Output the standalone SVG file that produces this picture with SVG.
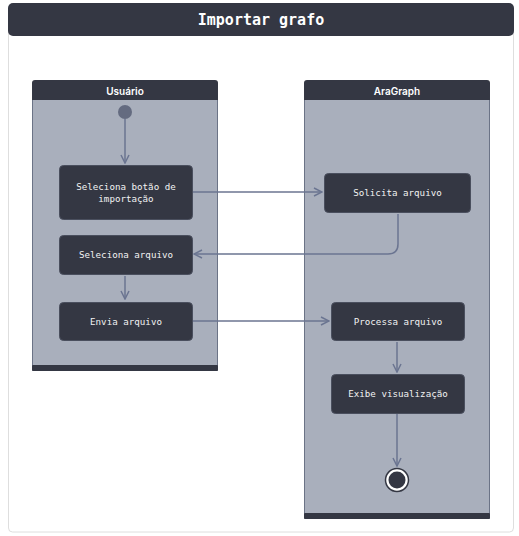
<svg xmlns="http://www.w3.org/2000/svg" width="519" height="536" viewBox="0 0 519 536">
<defs>
<style>
.lane{fill:#a9afbc;stroke:#6b7386;stroke-width:1}
.lanehead{fill:#343743}
.lanetitle{font-family:Inter,"Liberation Sans",sans-serif;font-size:10px;font-weight:600;fill:#ffffff;text-anchor:middle}
.node rect{fill:#343743;stroke:#4a4f5e;stroke-width:1}
.node text{font-family:"DejaVu Sans Mono","Liberation Mono",monospace;font-size:9.2px;fill:#f2f2f2;text-anchor:middle}
.edge{fill:none;stroke:#6b7591;stroke-width:1.5}
</style>
<marker id="arr" viewBox="0 0 10 10" refX="9" refY="5" markerWidth="10" markerHeight="10" markerUnits="userSpaceOnUse" orient="auto">
<path d="M1,1 L9,5 L1,9" fill="none" stroke="#6b7591" stroke-width="1.5"/>
</marker>
</defs>
<rect x="0" y="0" width="519" height="536" fill="#ffffff"/>
<rect x="8.5" y="30" width="505" height="502" rx="4" fill="#ffffff" stroke="#dedede" stroke-width="1"/>
<g id="title">
<rect x="8" y="3" width="506" height="33" rx="5" fill="#343743"/>
<text x="261" y="25" font-family="'DejaVu Sans Mono','Liberation Mono',monospace" font-size="15" font-weight="bold" fill="#ffffff" text-anchor="middle">Importar grafo</text>
</g>
<g id="lane-usuario">
<rect class="lane" x="32.5" y="92" width="185" height="278"/>
<rect class="lanehead" x="32" y="80" width="186" height="20" rx="3"/>
<rect class="lanehead" x="32" y="90" width="186" height="10"/>
<rect class="lanehead" x="32" y="365" width="186" height="6" rx="1"/>
<text class="lanetitle" x="125" y="94.5">Usuário</text>
</g>
<g id="lane-aragraph">
<rect class="lane" x="304.5" y="92" width="185" height="426"/>
<rect class="lanehead" x="304" y="80" width="186" height="20" rx="3"/>
<rect class="lanehead" x="304" y="90" width="186" height="10"/>
<rect class="lanehead" x="304" y="513" width="186" height="6" rx="1"/>
<text class="lanetitle" x="397" y="94.5">AraGraph</text>
</g>
<g id="edges">
<path class="edge" d="M125,119 L125,163" marker-end="url(#arr)"/>
<path class="edge" d="M193,192 L322,192" marker-end="url(#arr)"/>
<path class="edge" d="M398,214 L398,244 Q398,254 388,254 L194,254" marker-end="url(#arr)"/>
<path class="edge" d="M125,276 L125,299" marker-end="url(#arr)"/>
<path class="edge" d="M193,321 L329,321" marker-end="url(#arr)"/>
<path class="edge" d="M397,342 L397,372" marker-end="url(#arr)"/>
<path class="edge" d="M397,414 L397,466" marker-end="url(#arr)"/>
</g>
<g id="start">
<circle cx="125" cy="112" r="7" fill="#646b80"/>
</g>
<g id="n1" class="node">
<rect x="59.5" y="165.5" width="133" height="54" rx="4"/>
<text x="126" y="190">Seleciona botão de</text>
<text x="126" y="201.5">importação</text>
</g>
<g id="n2" class="node">
<rect x="59.5" y="235.5" width="133" height="39" rx="4"/>
<text x="126" y="257.5">Seleciona arquivo</text>
</g>
<g id="n3" class="node">
<rect x="59.5" y="302.5" width="133" height="38" rx="4"/>
<text x="126" y="324.5">Envia arquivo</text>
</g>
<g id="n4" class="node">
<rect x="324.5" y="173.5" width="146" height="39" rx="4"/>
<text x="397.5" y="195.5">Solicita arquivo</text>
</g>
<g id="n5" class="node">
<rect x="331.5" y="302.5" width="133" height="38" rx="4"/>
<text x="398" y="324.5">Processa arquivo</text>
</g>
<g id="n6" class="node">
<rect x="331.5" y="374.5" width="133" height="39" rx="4"/>
<text x="398" y="397">Exibe visualização</text>
</g>
<g id="end">
<circle cx="397" cy="480" r="11.5" fill="#ffffff" stroke="#343743" stroke-width="1.5"/>
<circle cx="397" cy="480" r="8.5" fill="#343743"/>
</g>
</svg>
